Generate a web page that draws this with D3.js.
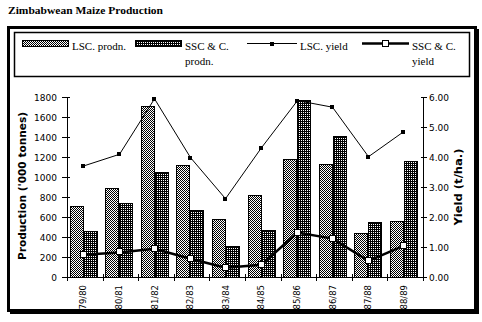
<!DOCTYPE html>
<html><head><meta charset="utf-8">
<script src="https://cdn.jsdelivr.net/npm/d3@7"></script>
<style>
html,body{margin:0;padding:0;background:#fff;}
svg{display:block;}
</style></head>
<body>
<svg id="c" width="482" height="322"></svg>
<script>
const categories = ["79/80","80/81","81/82","82/83","83/84","84/85","85/86","86/87","87/88","88/89"];
const lscProdn = [710, 890, 1710, 1120, 580, 820, 1180, 1130, 440, 560];
const sscProdn = [460, 740, 1050, 670, 310, 470, 1770, 1410, 550, 1160];
const lscYield = [3.70, 4.09, 5.94, 3.98, 2.61, 4.31, 5.88, 5.66, 4.01, 4.84];
const sscYield = [0.74, 0.82, 0.94, 0.61, 0.31, 0.41, 1.48, 1.28, 0.54, 1.04];
const prodTicks = [0,200,400,600,800,1000,1200,1400,1600,1800];
const yieldTicks = [0,1,2,3,4,5,6];

const svg = d3.select("#c");
const defs = svg.append("defs");
const p1 = defs.append("pattern").attr("id","pLSC").attr("patternUnits","userSpaceOnUse")
  .attr("width",2).attr("height",2);
p1.append("rect").attr("width",2).attr("height",2).attr("fill","#fff");
p1.append("rect").attr("x",0).attr("y",0).attr("width",1).attr("height",1).attr("fill","#000");
p1.append("rect").attr("x",1).attr("y",1).attr("width",1).attr("height",1).attr("fill","#000");
const p2 = defs.append("pattern").attr("id","pSSC").attr("patternUnits","userSpaceOnUse")
  .attr("width",2).attr("height",2);
p2.append("rect").attr("width",2).attr("height",2).attr("fill","#000");
p2.append("rect").attr("x",1).attr("y",0).attr("width",1).attr("height",1).attr("fill","#fff");

const serif = "'Liberation Serif','Times New Roman',serif";
const sans = "'DejaVu Sans','Liberation Sans',sans-serif";

svg.append("text").attr("x",8).attr("y",14).attr("font-family",serif).attr("font-weight","bold")
  .attr("font-size",11).attr("textLength",155).attr("lengthAdjust","spacingAndGlyphs")
  .text("Zimbabwean Maize Production");

svg.append("rect").attr("x",10).attr("y",29).attr("width",469).attr("height",285).attr("fill","#000");
svg.append("rect").attr("x",8.5).attr("y",27.5).attr("width",467).attr("height",283)
  .attr("fill","#fff").attr("stroke","#000").attr("stroke-width",3);

svg.append("rect").attr("x",14.5).attr("y",32.5).attr("width",455).attr("height",44)
  .attr("fill","#fff").attr("stroke","#000").attr("stroke-width",1.5);

const x0 = d3.scaleBand().domain(categories).range([67,423]).padding(0);
const x1 = d3.scaleBand().domain(["LSC","SSC"]).range([2.5,30.5]);
const yP = d3.scaleLinear().domain([0,1800]).range([277,97]);
const yY = d3.scaleLinear().domain([0,6]).range([277,97]);

const g = svg.append("g").attr("shape-rendering","crispEdges");
const series = [{k:"LSC",v:lscProdn,f:"url(#pLSC)"},{k:"SSC",v:sscProdn,f:"url(#pSSC)"}];
series.forEach(s=>{
  g.selectAll(null).data(categories).enter().append("rect")
    .attr("x",(d)=>Math.round(x0(d)+x1(s.k))+0.5)
    .attr("y",(d,i)=>Math.round(yP(s.v[i]))+0.5)
    .attr("width",x1.bandwidth()-1)
    .attr("height",(d,i)=>Math.round(yP(0))-Math.round(yP(s.v[i])))
    .attr("fill",s.f).attr("stroke","#000").attr("stroke-width",1);
});

const px = d=>Math.round(x0(d)+16)+0.5;
const lineL = d3.line().x((d,i)=>px(categories[i])).y(d=>yY(d));
svg.append("path").attr("d",lineL(lscYield)).attr("fill","none").attr("stroke","#000").attr("stroke-width",1);
svg.append("path").attr("d",lineL(sscYield)).attr("fill","none").attr("stroke","#000").attr("stroke-width",2.5);
svg.selectAll(null).data(lscYield).enter().append("rect")
  .attr("x",(d,i)=>px(categories[i])-2.5).attr("y",d=>Math.round(yY(d))-2)
  .attr("width",4).attr("height",4).attr("fill","#000").attr("shape-rendering","crispEdges");
svg.selectAll(null).data(sscYield).enter().append("rect")
  .attr("x",(d,i)=>px(categories[i])-3).attr("y",d=>Math.round(yY(d))-3.5)
  .attr("width",6).attr("height",6).attr("fill","#fff").attr("stroke","#000").attr("stroke-width",1)
  .attr("shape-rendering","crispEdges");

const tickFont = 9;
const ax = svg.append("g").attr("shape-rendering","crispEdges");
ax.append("line").attr("x1",67.5).attr("x2",67.5).attr("y1",97).attr("y2",278).attr("stroke","#000");
ax.selectAll(null).data(prodTicks).enter().append("line")
  .attr("x1",62).attr("x2",70).attr("y1",d=>Math.round(yP(d))+0.5).attr("y2",d=>Math.round(yP(d))+0.5).attr("stroke","#000");
svg.selectAll(null).data(prodTicks).enter().append("text")
  .attr("x",57).attr("y",d=>yP(d)+3.5).attr("text-anchor","end")
  .attr("font-family",sans).attr("font-size",tickFont).text(d=>d);
ax.append("line").attr("x1",423.5).attr("x2",423.5).attr("y1",97).attr("y2",278).attr("stroke","#000");
ax.selectAll(null).data(yieldTicks).enter().append("line")
  .attr("x1",421).attr("x2",427).attr("y1",d=>Math.round(yY(d))+0.5).attr("y2",d=>Math.round(yY(d))+0.5).attr("stroke","#000");
svg.selectAll(null).data(yieldTicks).enter().append("text")
  .attr("x",429).attr("y",d=>yY(d)+3.5).attr("text-anchor","start")
  .attr("font-family",sans).attr("font-size",tickFont).text(d=>d.toFixed(2));
ax.append("line").attr("x1",67).attr("x2",424).attr("y1",277.5).attr("y2",277.5).attr("stroke","#000");
const bTicks = categories.map(c=>x0(c)).concat([x0.range()[1]]);
ax.selectAll(null).data(bTicks).enter().append("line")
  .attr("x1",d=>Math.round(d)+0.5).attr("x2",d=>Math.round(d)+0.5).attr("y1",274).attr("y2",281).attr("stroke","#000");
svg.selectAll(null).data(categories).enter().append("text")
  .attr("transform",d=>`translate(${x0(d)+x0.bandwidth()/2+1.5},285) rotate(-90)`)
  .attr("text-anchor","end").attr("font-family",sans).attr("font-size",8.5).text(d=>d);

svg.append("text").attr("transform","translate(26,186) rotate(-90)").attr("text-anchor","middle")
  .attr("font-family",sans).attr("font-weight","bold").attr("font-size",10.5)
  .attr("textLength",148).attr("lengthAdjust","spacingAndGlyphs").text("Production ('000 tonnes)");
svg.append("text").attr("transform","translate(462,187) rotate(-90)").attr("text-anchor","middle")
  .attr("font-family",sans).attr("font-weight","bold").attr("font-size",10.5)
  .attr("textLength",77).attr("lengthAdjust","spacingAndGlyphs").text("Yield (t/ha.)");

const lg = svg.append("g");
const lf = 11;
lg.append("rect").attr("x",22.5).attr("y",40.5).attr("width",46).attr("height",6)
  .attr("fill","url(#pLSC)").attr("stroke","#000").attr("shape-rendering","crispEdges");
lg.append("text").attr("x",72).attr("y",50).attr("font-family",serif).attr("font-size",lf).text("LSC. prodn.");
lg.append("rect").attr("x",135.5).attr("y",40.5).attr("width",46).attr("height",6)
  .attr("fill","url(#pSSC)").attr("stroke","#000").attr("shape-rendering","crispEdges");
lg.append("text").attr("x",185).attr("y",50).attr("font-family",serif).attr("font-size",lf).text("SSC & C.");
lg.append("text").attr("x",185).attr("y",65).attr("font-family",serif).attr("font-size",lf).text("prodn.");
lg.append("line").attr("x1",247).attr("x2",297).attr("y1",43.5).attr("y2",43.5).attr("stroke","#000");
lg.append("rect").attr("x",270).attr("y",42).attr("width",4).attr("height",4).attr("fill","#000").attr("shape-rendering","crispEdges");
lg.append("text").attr("x",300).attr("y",50).attr("font-family",serif).attr("font-size",lf).text("LSC. yield");
lg.append("line").attr("x1",362).attr("x2",409).attr("y1",43.5).attr("y2",43.5).attr("stroke","#000").attr("stroke-width",2.5);
lg.append("rect").attr("x",382.5).attr("y",40.5).attr("width",6).attr("height",6).attr("fill","#fff").attr("stroke","#000").attr("shape-rendering","crispEdges");
lg.append("text").attr("x",412).attr("y",50).attr("font-family",serif).attr("font-size",lf).text("SSC & C.");
lg.append("text").attr("x",412).attr("y",65).attr("font-family",serif).attr("font-size",lf).text("yield");
</script>
</body></html>
